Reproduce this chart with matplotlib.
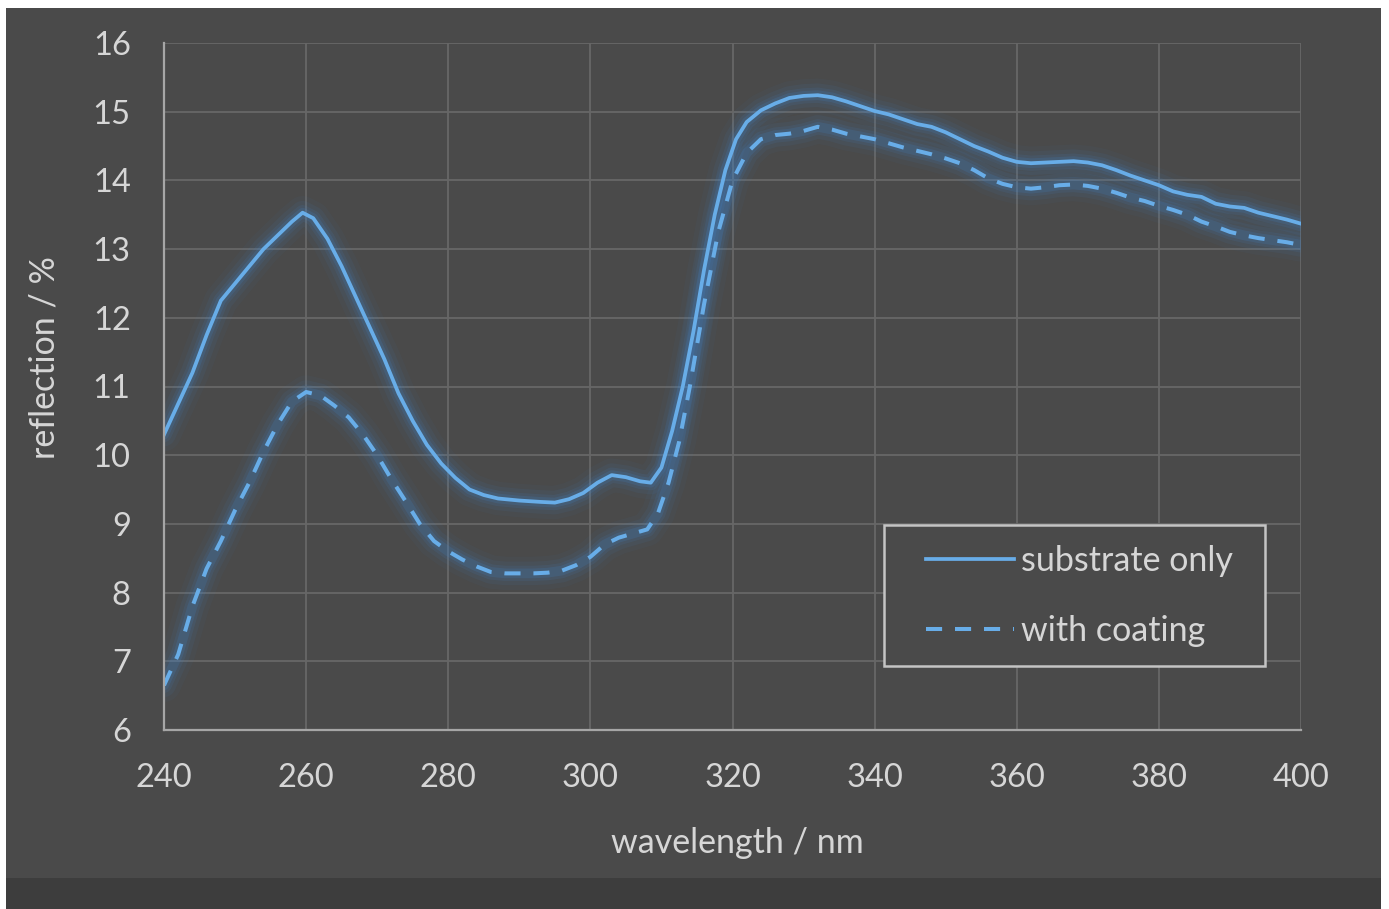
import matplotlib
matplotlib.use("Agg")
import matplotlib.pyplot as plt
from matplotlib.patches import Rectangle

# ---- data ----
wl_substrate = [240, 242, 244, 246, 248, 250, 252, 254, 256, 258, 259.5, 261, 263, 265, 267, 269,
                271, 273, 275, 277, 279, 281, 283, 285, 287, 290, 293, 295, 297, 299, 301, 303,
                305, 307, 308.5, 310, 311.5, 313, 314.5, 316, 317.5, 319, 320.5, 322, 324, 326,
                328, 330, 332, 334, 336, 338, 340, 342, 344, 346, 348, 350, 352, 354, 356, 358,
                360, 362, 364, 366, 368, 370, 372, 374, 376, 378, 380, 382, 384, 386, 388, 390,
                392, 394, 396, 398, 400]
refl_substrate = [10.3, 10.75, 11.2, 11.75, 12.25, 12.5, 12.75, 13.0, 13.2, 13.4, 13.53, 13.45,
                  13.15, 12.75, 12.3, 11.85, 11.4, 10.9, 10.5, 10.15, 9.88, 9.67, 9.5, 9.42, 9.37,
                  9.34, 9.32, 9.31, 9.36, 9.45, 9.6, 9.71, 9.68, 9.62, 9.6, 9.82, 10.35, 11.0,
                  11.8, 12.7, 13.5, 14.15, 14.6, 14.85, 15.02, 15.12, 15.2, 15.23, 15.24, 15.21,
                  15.15, 15.08, 15.01, 14.96, 14.89, 14.82, 14.78, 14.7, 14.6, 14.5, 14.42, 14.33,
                  14.27, 14.25, 14.26, 14.27, 14.28, 14.26, 14.22, 14.15, 14.07, 14.0, 13.93,
                  13.84, 13.79, 13.76, 13.66, 13.62, 13.6, 13.53, 13.48, 13.43, 13.37]

wl_coating = [240, 242, 244, 246, 248, 250, 252, 254, 256, 258, 260, 262, 264, 266, 268, 270,
              272, 274, 276, 278, 280, 282, 284, 286, 288, 290, 292, 294, 296, 298, 300, 302,
              304, 306, 308, 309.5, 311, 312.5, 314, 316, 318, 320, 322, 324, 326, 328, 330,
              332, 334, 336, 338, 340, 342, 344, 346, 348, 350, 352, 354, 356, 358, 360, 362,
              364, 366, 368, 370, 372, 374, 376, 378, 380, 382, 384, 386, 388, 390, 392, 394,
              396, 398, 400]
refl_coating = [6.65, 7.1, 7.8, 8.35, 8.75, 9.2, 9.6, 10.05, 10.45, 10.78, 10.92, 10.87, 10.72,
                10.55, 10.3, 10.0, 9.65, 9.33, 9.0, 8.75, 8.6, 8.48, 8.38, 8.3, 8.28, 8.28, 8.28,
                8.29, 8.32, 8.4, 8.52, 8.7, 8.8, 8.86, 8.92, 9.15, 9.6, 10.2, 11.0, 12.2, 13.25,
                14.0, 14.4, 14.6, 14.66, 14.68, 14.72, 14.78, 14.74, 14.68, 14.64, 14.6, 14.54,
                14.48, 14.43, 14.38, 14.32, 14.25, 14.15, 14.03, 13.95, 13.9, 13.88, 13.9, 13.93,
                13.94, 13.92, 13.88, 13.82, 13.75, 13.7, 13.63, 13.57, 13.5, 13.4, 13.33, 13.25,
                13.2, 13.16, 13.13, 13.1, 13.06]

series_labels = ["substrate only", "with coating"]
x_ticks = [240, 260, 280, 300, 320, 340, 360, 380, 400]
y_ticks = [6, 7, 8, 9, 10, 11, 12, 13, 14, 15, 16]
x_label = "wavelength / nm"
y_label = "reflection / %"

# ---- style ----
W, H = 1389, 909
BG = "#4a4a4a"
BAND = "#3d3d3d"
LINE = "#68ade8"
GLOW = "#3f88d4"
TXT = "#d6d6d6"
GRID = "#676767"
plt.rcParams['font.family'] = ['Lato', 'DejaVu Sans']

fig = plt.figure(figsize=(W / 100, H / 100), dpi=100, facecolor="white")
fig.patches.append(Rectangle((6 / W, 1 - 878 / H), (1381 - 6) / W, (878 - 8) / H,
                             transform=fig.transFigure, facecolor=BG, edgecolor="none", zorder=-10))
fig.patches.append(Rectangle((6 / W, 0), (1381 - 6) / W, 31 / H,
                             transform=fig.transFigure, facecolor=BAND, edgecolor="none", zorder=-10))

ax = fig.add_axes([164 / W, 1 - 730 / H, (1301 - 164) / W, (730 - 43) / H])
ax.set_facecolor(BG)

# glow
for lw, a in [(24, 0.045), (17, 0.07), (11, 0.1), (7, 0.16)]:
    ax.plot(wl_substrate, refl_substrate, color=GLOW, lw=lw, alpha=a, solid_capstyle="round")
    ax.plot(wl_coating, refl_coating, color=GLOW, lw=lw, alpha=a, solid_capstyle="round")

ax.plot(wl_substrate, refl_substrate, color=LINE, lw=2.7, label=series_labels[0])
ax.plot(wl_coating, refl_coating, color=LINE, lw=2.9, dashes=(4, 3.2), label=series_labels[1])

ax.set_xlim(240, 400)
ax.set_ylim(6, 16)
ax.set_xticks(x_ticks)
ax.set_yticks(y_ticks)
ax.grid(True, color=GRID, lw=1.3)
ax.set_axisbelow(True)
for s in ["top", "right"]:
    ax.spines[s].set_visible(False)
for s in ["left", "bottom"]:
    ax.spines[s].set_color("#a6a6a6")
    ax.spines[s].set_linewidth(1.6)
ax.tick_params(axis="both", length=0, labelsize=23.5, labelcolor=TXT)
ax.tick_params(axis="y", pad=24)
ax.tick_params(axis="x", pad=24)

fig.text(737 / W, 1 - 843 / H, x_label, ha="center", va="center", fontsize=24.5, color=TXT)
fig.text(45 / W, 1 - 358 / H, y_label, ha="center", va="center", rotation=90, fontsize=24.5, color=TXT)

# legend frame drawn explicitly (inside the axes so the legend sits above it)
frame = Rectangle((884 / W, 1 - 666 / H), (1265 - 884) / W, (666 - 525) / H,
                  transform=fig.transFigure, facecolor=BG, edgecolor="#c4c4c4",
                  lw=1.8, zorder=5, clip_on=False)
ax.add_artist(frame)
leg = ax.legend(loc="center left", bbox_to_anchor=(926 / W, 1 - 596 / H),
                bbox_transform=fig.transFigure, fontsize=24.5, frameon=False,
                handlelength=2.6, handletextpad=0.2, labelspacing=1.1, borderpad=0,
                borderaxespad=0)
leg.set_zorder(6)
for t in leg.get_texts():
    t.set_color(TXT)

fig.savefig("out.png", dpi=100, facecolor="white")
